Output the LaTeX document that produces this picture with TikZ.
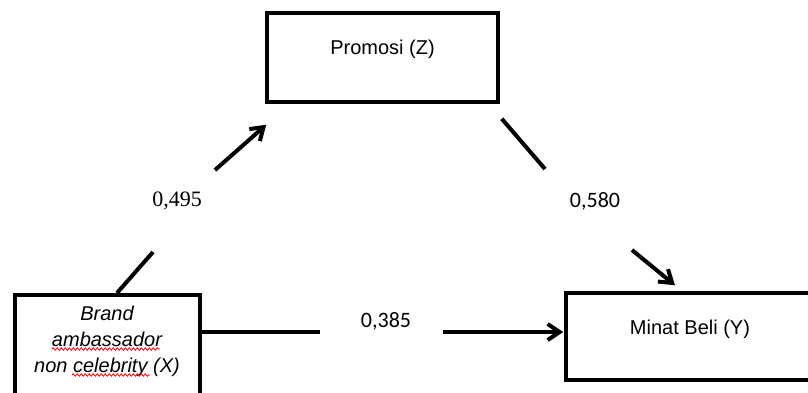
\documentclass[tikz,border=0pt]{standalone}
\usepackage{fontspec}
\setmainfont{Liberation Sans}
\newfontfamily\serifnum{Liberation Serif}
\newfontfamily\calnum{Carlito}
\usepackage{tikz}
\usetikzlibrary{calc,arrows.meta,decorations.pathmorphing}

\begin{document}
\begin{tikzpicture}[x=1pt,y=-1pt,
        box/.style={draw,line width=3.5pt,inner sep=0pt,font=\fontsize{20}{26}\selectfont},
        conn/.style={line width=4pt},
        arr/.style={conn,-{Straight Barb[length=12pt,width=16pt]}},
        wavy/.style={red,line width=0.8pt,decorate,decoration={snake,amplitude=1.2pt,segment length=4pt}}]
            \useasboundingbox (0,0) rectangle (808,392);
            \node (Z) at (382.5,57.5) [box,minimum width=231pt,minimum height=89pt,text height=41pt,text depth=48pt] {Promosi (Z)};
            \node (Y) at (690,336.5) [box,minimum width=248pt,minimum height=87pt,text height=41pt,text depth=46pt] {Minat Beli (Y)};
            \node (X) at (107.5,293) [box,anchor=north,minimum width=185pt,minimum height=120pt] {};
            \node (Xtext) at (107,341) [align=center,font=\itshape\fontsize{20}{26}\selectfont] {Brand\\ambassador\\non celebrity (X)};
            \draw [wavy] (52,349) -- (160,349);
            \draw [wavy] (72,375) -- (150,375);
            \node (XZ) at (177,201) [font=\serifnum\fontsize{22}{26}\selectfont] {0,495};
            \node (ZY) at (595,201) [font=\calnum\fontsize{22}{26}\selectfont] {0,580};
            \node (XY) at (386,321) [font=\calnum\fontsize{22}{26}\selectfont] {0,385};
            \draw [conn] ($(X.north)+(9.5,0)$) -- ($(XZ)+(-24,51)$);
            \draw [arr] ($(XZ)+(38,-31)$) -- ($(Z.south west)+(1,21)$);
            \draw [conn] ($(Z.south east)+(2,15)$) -- ($(ZY)+(-50,-32)$);
            \draw [arr] ($(ZY)+(37,49)$) -- ($(Y.north)+(-15,-6)$);
            \draw [conn] ($(X.north east)+(0,39)$) -- ($(XY)+(-66,11)$);
            \draw [arr] ($(XY)+(57,11)$) -- ($(Y.west)+(-1,-4.5)$);
        \end{tikzpicture}
\end{document}
